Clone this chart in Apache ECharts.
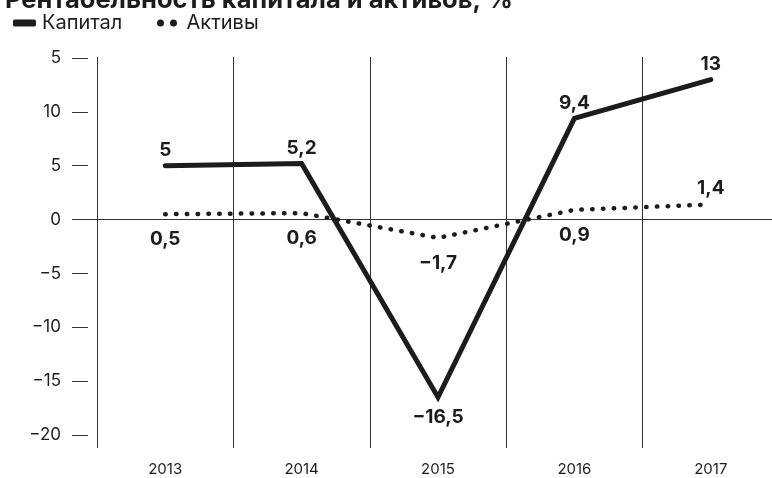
<!DOCTYPE html>
<html>
<head>
<meta charset="utf-8">
<script src="https://cdn.jsdelivr.net/npm/echarts@6/dist/echarts.min.js"></script>
<style>html,body{margin:0;padding:0;background:#fff}#c{width:772px;height:478px}</style>
</head>
<body>
<div id="c"></div>
<script>
const categories = ['2013', '2014', '2015', '2016', '2017'];
const capitalValues = [5, 5.2, -16.5, 9.4, 13];
const assetValues = [0.5, 0.6, -1.7, 0.9, 1.4];
const capitalLabels = ['5', '5,2', '−16,5', '9,4', '13'];
const assetLabels = ['0,5', '0,6', '−1,7', '0,9', '1,4'];
const yTickValues = [-20, -15, -10, -5, 0, 5, 10, 15];
const yTickLabels = ['−20', '−15', '−10', '−5', '0', '5', '10', '5'];
const titleText = 'Рентабельность капитала и активов, %';
const seriesNames = ['Капитал', 'Активы'];

const FONT = 'Inter';
const INK = '#1c1c1c';
const CLEAR = 'rgba(0,0,0,0)';

const capPos = ['top', 'top', 'bottom', 'top', 'top'];
const capDist = [5, 5, 9, 5, 5];
const assetPos = ['bottom', 'bottom', 'bottom', 'bottom', 'top'];
const assetDist = [15, 15, 15, 15, 6];

const chart = echarts.init(document.getElementById('c'), null, {renderer: 'canvas'});
const labelStyle = {fontFamily: FONT, fontWeight: 'bold', fontSize: 19, color: INK};

chart.setOption({
  backgroundColor: '#fff',
  animation: false,
  title: {
    text: titleText, left: 0, top: -18,
    textStyle: {fontFamily: FONT, fontWeight: 'bold', fontSize: 25.5, color: INK}
  },
  legend: [
    {
      data: [{name: seriesNames[0], icon: 'roundRect', itemStyle: {color: INK, opacity: 1}}],
      left: 8, top: 8, itemWidth: 23, itemHeight: 7, itemGap: 6,
      itemStyle: {color: INK, opacity: 1},
      textStyle: {fontFamily: FONT, fontSize: 20, color: INK, padding: [0, 0, 0, 1]},
      selectedMode: false
    },
    {
      data: [{name: seriesNames[1], icon: 'path://M0,3.5a3.5,3.5 0 1,0 7,0a3.5,3.5 0 1,0 -7,0M13,3.5a3.5,3.5 0 1,0 7,0a3.5,3.5 0 1,0 -7,0', itemStyle: {color: INK, opacity: 1}}],
      left: 152, top: 8, itemWidth: 21, itemHeight: 7,
      itemStyle: {color: INK, opacity: 1},
      textStyle: {fontFamily: FONT, fontSize: 20, color: INK, padding: [0, 0, 0, 4]},
      selectedMode: false
    }
  ],
  grid: [
    {left: 97, right: -7, top: 58, bottom: 43, outerBoundsMode: 'none', containLabel: false},
    {left: 97, right: -7, top: 57, bottom: 30, outerBoundsMode: 'none', containLabel: false},
    {left: 72, right: 0, top: 58, bottom: 43, outerBoundsMode: 'none', containLabel: false}
  ],
  xAxis: [
    {gridIndex: 0, type: 'category', data: categories, boundaryGap: true,
     axisLine: {show: false}, axisTick: {show: false}, axisLabel: {show: false}, splitLine: {show: false}},
    {gridIndex: 1, type: 'category', data: categories, boundaryGap: true, position: 'bottom',
     axisLine: {show: false}, axisTick: {show: false},
     axisLabel: {show: true, fontFamily: FONT, fontSize: 15, color: INK, margin: 14},
     splitLine: {show: true, lineStyle: {color: '#333', width: 1}}},
    {gridIndex: 2, type: 'value', min: 0, max: 1, show: false}
  ],
  yAxis: [
    {gridIndex: 0, type: 'value', min: -20, max: 15, interval: 5, show: false},
    {gridIndex: 1, type: 'value', min: 0, max: 1, show: false},
    {gridIndex: 2, type: 'value', min: -20, max: 15, interval: 5,
     axisLine: {show: false},
     axisTick: {show: true, inside: true, length: 16, lineStyle: {color: '#333', width: 1}},
     axisLabel: {show: true, margin: 11, fontFamily: FONT, fontSize: 17, color: INK,
       formatter: v => { const i = yTickValues.indexOf(v); return i >= 0 ? yTickLabels[i] : ''; }},
     splitLine: {show: true, lineStyle: {width: 1, color: yTickValues.map(v => v === 0 ? '#333' : CLEAR)}}}
  ],
  series: [
    {
      name: seriesNames[0], type: 'line', xAxisIndex: 0, yAxisIndex: 0,
      data: capitalValues.map((v, i) => ({
        value: v,
        label: {show: true, position: capPos[i], distance: capDist[i], formatter: capitalLabels[i], ...labelStyle}
      })),
      symbol: 'circle', symbolSize: 2, showSymbol: true, showAllSymbol: true,
      itemStyle: {color: CLEAR, borderWidth: 0},
      lineStyle: {color: INK, width: 5, cap: 'round', join: 'miter'},
      labelLayout: {hideOverlap: false},
      z: 3
    },
    {
      name: seriesNames[1], type: 'line', xAxisIndex: 0, yAxisIndex: 0,
      data: assetValues.map((v, i) => ({
        value: v,
        label: {show: true, position: assetPos[i], distance: assetDist[i], formatter: assetLabels[i], ...labelStyle}
      })),
      symbol: 'circle', symbolSize: 2, showSymbol: true, showAllSymbol: true,
      itemStyle: {color: CLEAR, borderWidth: 0},
      lineStyle: {color: INK, width: 4.5, type: [0.5, 10.3], cap: 'round'},
      labelLayout: {hideOverlap: false},
      z: 2
    }
  ]
});
</script>
</body>
</html>
